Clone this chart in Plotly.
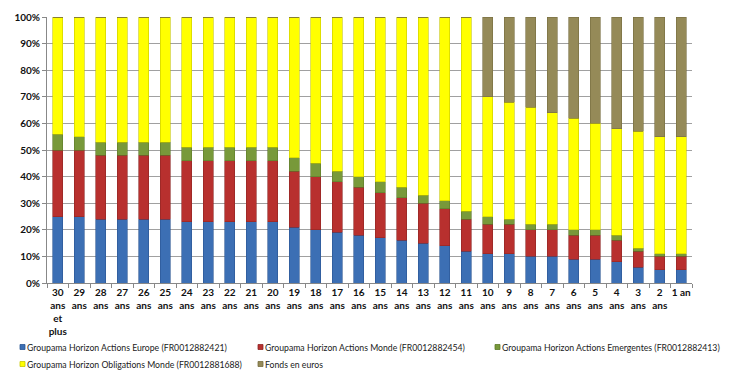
import plotly.graph_objects as go

categories = ["30<br>ans<br>et<br>plus", "29<br>ans", "28<br>ans", "27<br>ans", "26<br>ans", "25<br>ans",
              "24<br>ans", "23<br>ans", "22<br>ans", "21<br>ans", "20<br>ans", "19<br>ans", "18<br>ans",
              "17<br>ans", "16<br>ans", "15<br>ans", "14<br>ans", "13<br>ans", "12<br>ans", "11<br>ans",
              "10<br>ans", "9<br>ans", "8<br>ans", "7<br>ans", "6<br>ans", "5<br>ans", "4<br>ans",
              "3<br>ans", "2<br>ans", "1 an"]

europe     = [25, 25, 24, 24, 24, 24, 23, 23, 23, 23, 23, 21, 20, 19, 18, 17, 16, 15, 14, 12, 11, 11, 10, 10, 9, 9, 8, 6, 5, 5]
monde      = [25, 25, 24, 24, 24, 24, 23, 23, 23, 23, 23, 21, 20, 19, 18, 17, 16, 15, 14, 12, 11, 11, 10, 10, 9, 9, 8, 6, 5, 5]
emergentes = [6, 5, 5, 5, 5, 5, 5, 5, 5, 5, 5, 5, 5, 4, 4, 4, 4, 3, 3, 3, 3, 2, 2, 2, 2, 2, 2, 1, 1, 1]
obligations= [44, 45, 47, 47, 47, 47, 49, 49, 49, 49, 49, 53, 55, 58, 60, 62, 64, 67, 69, 73, 45, 44, 44, 42, 42, 40, 40, 44, 44, 44]
fonds      = [0, 0, 0, 0, 0, 0, 0, 0, 0, 0, 0, 0, 0, 0, 0, 0, 0, 0, 0, 0, 30, 32, 34, 36, 38, 40, 42, 43, 45, 45]

series_names = ["Groupama Horizon Actions Europe (FR0012882421)",
                "Groupama Horizon Actions Monde (FR0012882454)",
                "Groupama Horizon Actions Emergentes (FR0012882413)",
                "Groupama Horizon Obligations Monde (FR0012881688)",
                "Fonds en euros"]
series_values = [europe, monde, emergentes, obligations, fonds]
colors = ["#3c6fb4", "#b8302e", "#78993a", "#ffff00", "#958a58"]
edges = ["#2a5592", "#8e2523", "#5d7a2a", "#c8c800", "#766c40"]

# page body has an 8px margin: the figure starts at (8, 8) in the window
OFF = 8
W, H = 746 - OFF, 382 - OFF
ML, MR, MT, MB = 47 - OFF, 54, 17 - OFF, 99
PW, PH = W - ML - MR, H - MT - MB

fig = go.Figure()
for name, vals, c, e in zip(series_names, series_values, colors, edges):
    fig.add_trace(go.Bar(x=categories, y=[v / 100 for v in vals], name=name,
                         marker=dict(color=c, line=dict(color=e, width=0.6))))

# legend laid out like the original (two rows, small square swatches); window pixels
legend_pos = [(20, 347), (258, 347), (495, 347), (20, 364), (258, 364)]
def px_x(p):
    return (p - OFF - ML) / PW
def px_y(p):
    return (H - MB - (p - OFF)) / PH
for (lx, ly), name, c, e in zip(legend_pos, series_names, colors, edges):
    fig.add_shape(type="rect", xref="paper", yref="paper",
                  x0=px_x(lx), x1=px_x(lx + 5), y0=px_y(ly + 2.5), y1=px_y(ly - 2.5),
                  fillcolor=c, line=dict(color=e, width=0.8))
    fig.add_annotation(xref="paper", yref="paper", x=px_x(lx + 5), y=px_y(ly),
                       xanchor="left", yanchor="middle", text=name, showarrow=False,
                       font=dict(family="Lato", size=8.7, color="#1a1a1a"))

tick_font = dict(size=10, color="#111", family="Lato", weight="bold")

fig.update_layout(
    barmode="stack",
    bargap=0.53,
    width=W, height=H,
    margin=dict(l=ML, r=MR, t=MT, b=MB, autoexpand=False),
    paper_bgcolor="white", plot_bgcolor="white",
    font=dict(family="Lato", size=10, color="#222"),
    showlegend=False,
)
fig.update_xaxes(type="category", tickson="boundaries", ticks="outside", ticklen=4,
                 tickcolor="#888", showline=True, linecolor="#888", linewidth=1,
                 tickfont=tick_font, tickangle=0, showgrid=False, automargin=False)
fig.update_yaxes(range=[0, 1], dtick=0.1, tickformat=".0%", showgrid=True,
                 gridcolor="#a0a0a0", gridwidth=1, showline=True, linecolor="#888",
                 ticks="outside", ticklen=4, tickcolor="#888",
                 tickfont=tick_font, zeroline=False, automargin=False)

fig.write_html("out.html")
